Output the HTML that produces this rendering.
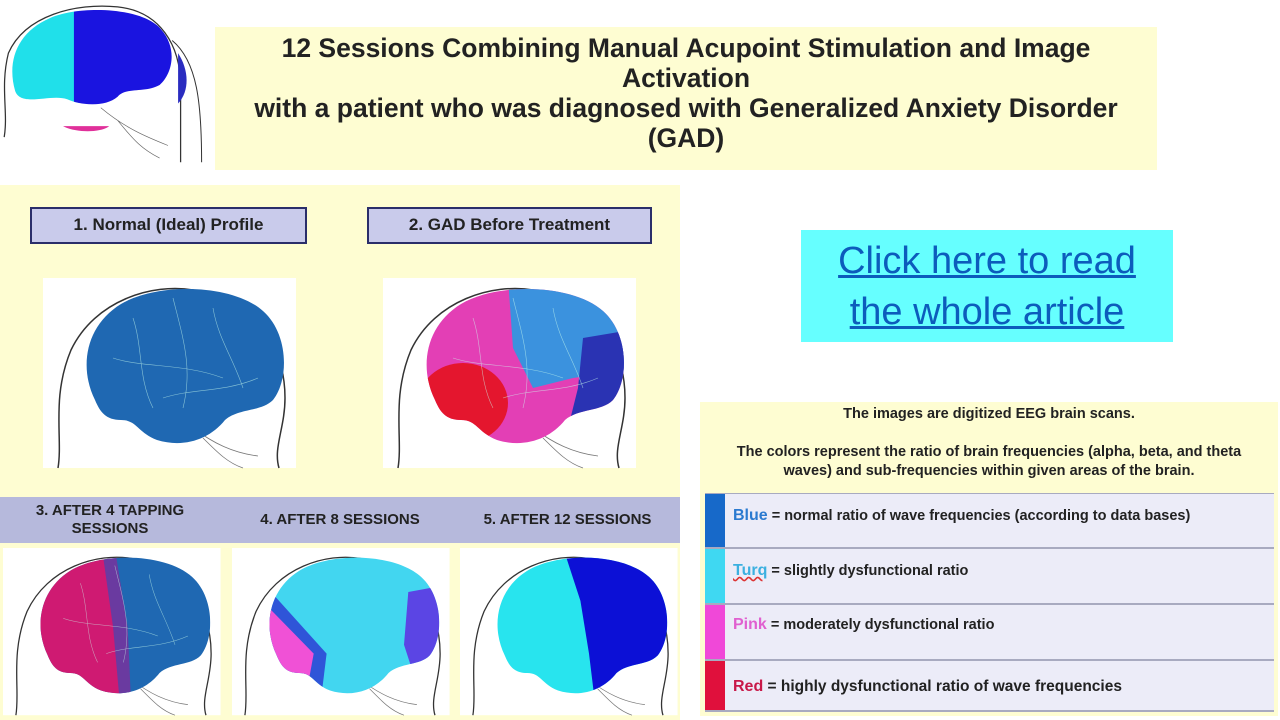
<!DOCTYPE html>
<html><head><meta charset="utf-8"><style>
body{margin:0;width:1280px;height:720px;background:#fff;position:relative;overflow:hidden;font-family:"Liberation Sans",sans-serif}
.a{position:absolute}
.lbl{position:absolute;background:#c9cbeb;border:2px solid #2a2e6a;box-sizing:border-box;font-weight:bold;font-size:17px;color:#222;text-align:center;line-height:32px}
.bt{position:absolute;font-weight:bold;font-size:15px;color:#222;text-align:center;line-height:18px}
.row{position:absolute;left:705px;width:569px;background:#ececf8;border-bottom:2px solid #a8aac0;box-sizing:border-box;font-size:14.5px;font-weight:bold;color:#222}
.row .c{position:absolute;left:0;top:0;bottom:0;width:20px}
.row span.t{position:absolute;left:28px}
</style></head><body>

<!-- top-left icon -->
<svg class="a" style="left:0;top:0" width="210" height="165" viewBox="0 0 250 190">
<defs><clipPath id="ci"><path d="M18,105 C8,70 20,35 60,18 C95,3 170,5 192,32 C212,55 205,85 190,98 C172,108 150,100 140,112 C125,125 95,122 80,115 C60,108 25,125 18,105Z"/></clipPath></defs>
<g clip-path="url(#ci)"><rect x="0" y="0" width="95" height="190" fill="#20e0ea"/><rect x="88" y="0" width="170" height="190" fill="#1a14e0"/></g>
<path d="M5,160 C10,130 0,100 10,60 C30,15 90,0 140,5 C190,10 215,50 215,100 L215,190" fill="none" stroke="#333" stroke-width="1.5"/>
<path d="M205,45 C235,70 240,120 240,190" fill="none" stroke="#333" stroke-width="1.2"/>
<path d="M212,60 C225,80 226,105 212,120 Z" fill="#2a2cc0"/>
<path d="M75,147 L130,147 C120,155 90,155 75,147Z" fill="#e0309a"/>
<path d="M120,125 C150,150 175,160 200,170 M140,140 C160,165 170,175 190,185" fill="none" stroke="#666" stroke-width="0.8"/>
</svg>

<!-- title -->
<div class="a" style="left:215px;top:27px;width:942px;height:143px;background:#fefdd2"></div>
<div class="a" style="left:185px;top:33px;width:1002px;text-align:center;font-weight:bold;font-size:26.5px;line-height:30px;color:#222">12 Sessions Combining Manual Acupoint Stimulation and Image<br>Activation<br>with a patient who was diagnosed with Generalized Anxiety Disorder<br>(GAD)</div>

<!-- left panel -->
<div class="a" style="left:0;top:185px;width:680px;height:535px;background:#fefdd2"></div>
<div class="lbl" style="left:30px;top:207px;width:277px;height:37px">1. Normal (Ideal) Profile</div>
<div class="lbl" style="left:367px;top:207px;width:285px;height:37px">2. GAD Before Treatment</div>
<div class="a" style="left:0;top:497px;width:680px;height:46px;background:#b6b9dc"></div>
<div class="bt" style="left:15px;top:502px;width:190px">3. AFTER 4 TAPPING<br>SESSIONS</div>
<div class="bt" style="left:240px;top:511px;width:200px">4. AFTER 8 SESSIONS</div>
<div class="bt" style="left:465px;top:511px;width:205px">5. AFTER 12 SESSIONS</div>

<svg class="a" style="left:0;top:0" width="680" height="720">
<defs>
<clipPath id="b1"><path id="bp" d="M52,122 C36,90 42,48 78,26 C115,4 190,6 220,33 C246,56 246,102 230,122 C218,134 196,130 182,142 C166,162 140,170 114,162 C94,154 94,142 78,142 C63,142 57,134 52,122Z"/></clipPath>
<g id="head" fill="none" stroke="#333" stroke-width="1.5">
<path d="M15,190 C20,160 8,120 28,72 C52,22 110,5 150,12 C205,22 242,62 242,120 C242,150 230,170 236,190"/>
<path d="M150,150 C170,165 190,175 215,178 M160,160 C175,175 185,185 200,190" stroke="#777" stroke-width="0.8"/>
</g>
<g id="sulci" fill="none" stroke="#cfe" stroke-width="0.6" opacity="0.6">
<path d="M90,40 C100,70 95,100 110,130 M130,20 C140,60 150,90 140,130 M170,30 C175,60 190,80 200,110 M70,80 C100,90 140,85 180,100 M120,120 C150,110 180,115 215,100"/>
</g>
</defs>
<g transform="translate(43,278)"><rect width="253" height="190" fill="#fff"/>
<use href="#head"/><g clip-path="url(#b1)"><rect width="253" height="190" fill="#1f68b2"/><use href="#sulci"/></g></g>
<g transform="translate(383,278)"><rect width="253" height="190" fill="#fff"/>
<use href="#head"/><g clip-path="url(#b1)"><rect width="253" height="190" fill="#e33fb5"/>
<path d="M125,0 L260,0 L260,90 L190,100 L150,110 L130,70Z" fill="#3b92de"/>
<path d="M200,60 L260,50 L260,190 L185,150 L195,110Z" fill="#2a33b3"/>
<ellipse cx="80" cy="125" rx="45" ry="40" fill="#e4162e"/><use href="#sulci"/></g></g>
<g transform="translate(3,548) scale(0.86,0.88)"><rect width="253" height="190" fill="#fff"/>
<use href="#head"/><g clip-path="url(#b1)"><rect width="253" height="190" fill="#1f68b2"/>
<path d="M0,0 L115,0 L130,90 L140,200 L0,200Z" fill="#cf1a72"/>
<path d="M115,0 L130,0 L145,90 L150,200 L138,200 L128,90Z" fill="#6a3aa0"/><use href="#sulci"/></g></g>
<g transform="translate(232,548) scale(0.86,0.88)"><rect width="253" height="190" fill="#fff"/>
<use href="#head"/><g clip-path="url(#b1)"><rect width="253" height="190" fill="#42d6f0"/>
<path d="M0,60 L50,55 L110,120 L100,200 L0,200Z" fill="#2f55d8"/>
<path d="M0,75 L45,70 L95,120 L80,200 L0,200Z" fill="#f051d6"/>
<path d="M205,50 L260,40 L260,200 L210,140 L200,110Z" fill="#5b45e4"/></g></g>
<g transform="translate(460,548) scale(0.86,0.88)"><rect width="253" height="190" fill="#fff"/>
<use href="#head"/><g clip-path="url(#b1)"><rect width="253" height="190" fill="#28e4ee"/>
<path d="M120,0 L260,0 L260,200 L160,200 L150,120 L140,60Z" fill="#0c10d6"/></g></g>
</svg>

<!-- link -->
<div class="a" style="left:801px;top:230px;width:372px;height:112px;background:#66ffff"></div>
<div class="a" style="left:801px;top:236px;width:372px;text-align:center;font-size:38px;line-height:51px;color:#0c5cbc;text-decoration:underline">Click here to read<br>the whole article</div>

<!-- legend -->
<div class="a" style="left:700px;top:402px;width:578px;height:314px;background:#fefdd2"></div>
<div class="a" style="left:700px;top:405px;width:578px;text-align:center;font-size:14.5px;font-weight:bold;color:#222;line-height:19px">The images are digitized EEG brain scans.<br><br>The colors represent the ratio of brain frequencies (alpha, beta, and theta<br>waves) and sub-frequencies within given areas of the brain.</div>
<div class="a" style="left:705px;top:493px;width:569px;height:219px;border:1px solid #a8aac0;box-sizing:border-box"></div>
<div class="row" style="top:494px;height:55px"><div class="c" style="background:#1769c9"></div><span class="t" style="top:13px"><span style="color:#2b7ad0;font-size:16px">Blue</span> = normal ratio of wave frequencies (according to data bases)</span></div>
<div class="row" style="top:549px;height:56px"><div class="c" style="background:#3fd8f2"></div><span class="t" style="top:13px"><span style="color:#3bb0e0;font-size:16px;text-decoration:underline wavy #d33">Turq</span> = slightly dysfunctional ratio</span></div>
<div class="row" style="top:605px;height:56px"><div class="c" style="background:#f048d8"></div><span class="t" style="top:11px"><span style="color:#e060d0;font-size:16px">Pink</span> = moderately dysfunctional ratio</span></div>
<div class="row" style="top:661px;height:51px"><div class="c" style="background:#e0103c"></div><span class="t" style="top:17px;font-size:15.5px"><span style="color:#c81848;font-size:16px">Red</span> = highly dysfunctional ratio of wave frequencies</span></div>
</body></html>
